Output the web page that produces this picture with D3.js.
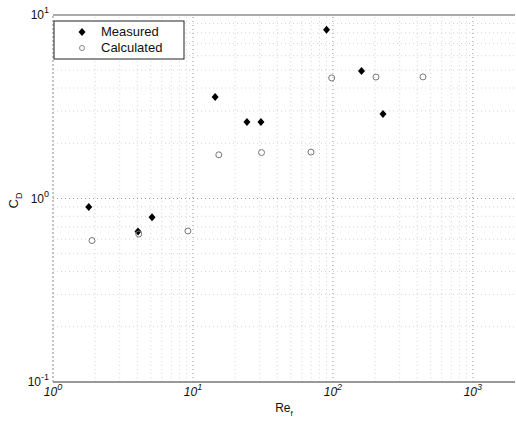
<!DOCTYPE html>
<html>
<head>
<meta charset="utf-8">
<script src="https://cdn.jsdelivr.net/npm/d3@7"></script>
<style>
  body { margin: 0; background: #fff; }
  text { font-family: "Liberation Sans", Arial, sans-serif; }
</style>
</head>
<body>
<div id="chart"></div>
<script>
// Re_f and C_D values
const measuredRe = [1.8, 4.05, 5.1, 14.4, 24.3, 30.6, 90, 160, 228];
const measuredCd = [0.90, 0.66, 0.79, 3.57, 2.61, 2.61, 8.3, 4.95, 2.89];
const calculatedRe = [1.9, 4.1, 9.2, 15.3, 30.9, 69.7, 98, 203, 440];
const calculatedCd = [0.59, 0.64, 0.665, 1.73, 1.78, 1.79, 4.54, 4.59, 4.6];
const xDecades = [0, 1, 2, 3];
const yDecades = [-1, 0, 1];

const width = 516, height = 428;
const margin = { top: 15, right: 1, bottom: 46, left: 53 };

const svg = d3.select("#chart").append("svg")
  .attr("width", width)
  .attr("height", height);

const x = d3.scaleLog()
  .domain([1, 2000])
  .range([margin.left, width - margin.right]);

const y = d3.scaleLog()
  .domain([0.1, 10])
  .range([height - margin.bottom, margin.top]);

// grid, dotted like the matlab figure
const xMinor = [];
for (let d = 0; d < 4; d++) for (let k = 1; k < 10; k++) {
  const v = k * Math.pow(10, d);
  if (v > 1 && v < 2000) xMinor.push(v);
}
const yMinor = [];
for (let d = -1; d < 1; d++) for (let k = 2; k < 10; k++) yMinor.push(k * Math.pow(10, d));

const grid = svg.append("g");
grid.selectAll(".gx").data(xMinor).join("line")
  .attr("x1", d => x(d)).attr("x2", d => x(d))
  .attr("y1", y(0.1)).attr("y2", y(10))
  .attr("stroke", d => Number.isInteger(Math.log10(d)) ? "#999" : "#d4d4d4")
  .attr("stroke-width", 1)
  .attr("stroke-dasharray", "1,3");
grid.selectAll(".gy").data(yMinor.concat([1])).join("line")
  .attr("x1", x(1)).attr("x2", x(2000))
  .attr("y1", d => y(d)).attr("y2", d => y(d))
  .attr("stroke", d => d === 1 ? "#999" : "#d4d4d4")
  .attr("stroke-width", 1)
  .attr("stroke-dasharray", "1,3");

// frame
svg.append("line")
  .attr("x1", x(1)).attr("x2", x(2000))
  .attr("y1", y(0.1)).attr("y2", y(0.1))
  .attr("stroke", "#777").attr("stroke-width", 1.5);
svg.append("line")
  .attr("x1", x(1)).attr("x2", x(2000))
  .attr("y1", y(10)).attr("y2", y(10))
  .attr("stroke", "#555").attr("stroke-width", 1);
svg.append("line")
  .attr("x1", x(1)).attr("x2", x(1))
  .attr("y1", y(0.1)).attr("y2", y(10))
  .attr("stroke", "#888").attr("stroke-dasharray", "2,2");

// tick labels as 10^n
const xl = svg.append("g");
xDecades.forEach(d => {
  const t = xl.append("text")
    .attr("x", x(Math.pow(10, d)))
    .attr("y", height - margin.bottom + 14)
    .attr("text-anchor", "middle")
    .attr("font-size", 12)
    .attr("font-style", "italic")
    .attr("fill", "#111");
  t.append("tspan").text("10");
  t.append("tspan").attr("dy", -6).attr("font-size", 9).text(d);
});

const yl = svg.append("g");
yDecades.forEach(d => {
  const t = yl.append("text")
    .attr("x", margin.left - 4)
    .attr("y", y(Math.pow(10, d)) + 4)
    .attr("text-anchor", "end")
    .attr("font-size", 12)
    .attr("fill", "#111");
  t.append("tspan").text("10");
  t.append("tspan").attr("dy", -6).attr("font-size", 9).text(d);
});

// axis titles
const xt = svg.append("text")
  .attr("x", (margin.left + width - margin.right) / 2)
  .attr("y", 412)
  .attr("text-anchor", "middle")
  .attr("font-size", 12)
  .attr("fill", "#111");
xt.append("tspan").text("Re");
xt.append("tspan").attr("dy", 4).attr("font-size", 8).text("f");

const yt = svg.append("text")
  .attr("transform", `translate(18,${y(1) + 2}) rotate(-90)`)
  .attr("text-anchor", "middle")
  .attr("font-size", 13)
  .attr("fill", "#111");
yt.append("tspan").text("C");
yt.append("tspan").attr("dy", 4).attr("font-size", 9).text("D");

// markers: matlab style diamond, nearly square
const diamond = "M0,-4L3.5,0L0,4L-3.5,0Z";

svg.append("g")
  .selectAll("path")
  .data(measuredRe.map((r, i) => [r, measuredCd[i]]))
  .join("path")
  .attr("d", diamond)
  .attr("transform", d => `translate(${x(d[0])},${y(d[1])})`)
  .attr("fill", "#000");

svg.append("g")
  .selectAll("circle")
  .data(calculatedRe.map((r, i) => [r, calculatedCd[i]]))
  .join("circle")
  .attr("cx", d => x(d[0]))
  .attr("cy", d => y(d[1]))
  .attr("r", 3)
  .attr("fill", "none")
  .attr("stroke", "#777")
  .attr("stroke-width", 1);

// legend
const lg = svg.append("g").attr("transform", "translate(54,21)");
lg.append("rect")
  .attr("width", 130).attr("height", 38)
  .attr("fill", "#fff")
  .attr("stroke", "#222").attr("stroke-width", 1);
lg.append("path")
  .attr("d", diamond)
  .attr("transform", "translate(28,11)")
  .attr("fill", "#000");
lg.append("circle")
  .attr("cx", 28).attr("cy", 27).attr("r", 2.5)
  .attr("fill", "none").attr("stroke", "#888");
lg.append("text").attr("x", 47).attr("y", 15)
  .attr("font-size", 13).attr("fill", "#111").text("Measured");
lg.append("text").attr("x", 47).attr("y", 31)
  .attr("font-size", 13).attr("fill", "#111").text("Calculated");
</script>
</body>
</html>
